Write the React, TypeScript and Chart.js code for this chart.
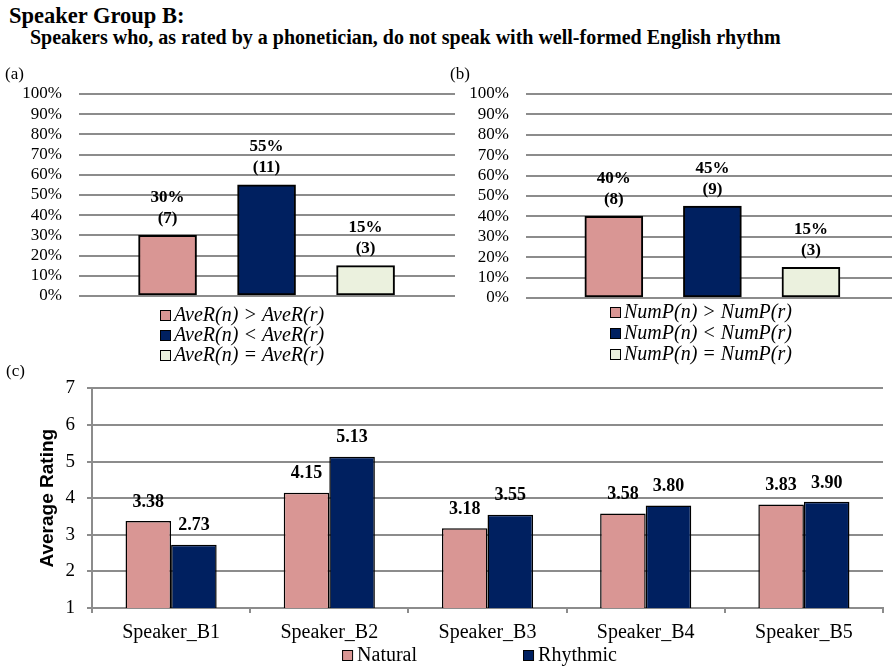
import React, { useEffect, useRef } from 'react';
import { Chart, registerables } from 'chart.js';

Chart.register(...registerables);

const SERIF = '"Liberation Serif", "Times New Roman", serif';
const SANS = '"Liberation Sans", Arial, sans-serif';

// ---- Data ----
const panelAConditions = ['AveR(n) > AveR(r)', 'AveR(n) < AveR(r)', 'AveR(n) = AveR(r)'];
const panelAPercent = [30, 55, 15];
const panelACount = [7, 11, 3];

const panelBConditions = ['NumP(n) > NumP(r)', 'NumP(n) < NumP(r)', 'NumP(n) = NumP(r)'];
const panelBPercent = [40, 45, 15];
const panelBCount = [8, 9, 3];

const speakers = ['Speaker_B1', 'Speaker_B2', 'Speaker_B3', 'Speaker_B4', 'Speaker_B5'];
const naturalRatings = [3.38, 4.15, 3.18, 3.58, 3.83];
const rhythmicRatings = [2.73, 5.13, 3.55, 3.8, 3.9];
const seriesNames = ['Natural', 'Rhythmic'];

const conditionColors = ['#D99694', '#002060', '#EBF1DE'];
const seriesColors = ['#D99694', '#002060'];
const GRID = '#8c8c8c';

type PercentOpts = {
  conditions: string[];
  percents: number[];
  counts: number[];
  panel: string;
  panelX: number;
  panelY: number;
  xMin: number;
  xMax: number;
  padding: { left: number; right: number; top: number; bottom: number };
  yWidth: number;
  legendX: number;
  legendTop: number;
  legendStep: number;
};

function makePercentConfig(o: PercentOpts): any {
  return {
    type: 'bar',
    data: {
      datasets: [
        {
          data: o.percents.map((v, i) => ({ x: i, y: v })),
          backgroundColor: conditionColors,
          borderColor: '#000',
          borderWidth: 2,
          borderSkipped: false,
          barThickness: 58,
        },
      ],
    },
    options: {
      animation: false,
      responsive: false,
      events: [],
      layout: { padding: o.padding },
      plugins: { legend: { display: false }, tooltip: { enabled: false } },
      scales: {
        x: { type: 'linear', min: o.xMin, max: o.xMax, display: false },
        y: {
          min: 0,
          max: 100,
          ticks: {
            stepSize: 10,
            autoSkip: false,
            callback: (v: number) => v + '%',
            font: { family: SERIF, size: 17 },
            color: '#000',
            padding: 17,
          },
          grid: { color: GRID, lineWidth: 2, drawTicks: false },
          border: { display: false },
          afterFit: (s: any) => {
            s.width = o.yWidth;
          },
        },
      },
    },
    plugins: [
      {
        id: 'percentLabels',
        afterDatasetsDraw(chart: any) {
          const ctx = chart.ctx;
          const meta = chart.getDatasetMeta(0);
          ctx.save();
          ctx.fillStyle = '#000';
          ctx.textAlign = 'center';
          ctx.textBaseline = 'middle';
          ctx.font = `bold 17px ${SERIF}`;
          meta.data.forEach((el: any, i: number) => {
            ctx.fillText(`${o.percents[i]}%`, el.x, el.y - 38);
            ctx.fillText(`(${o.counts[i]})`, el.x, el.y - 17);
          });
          ctx.restore();
        },
        afterDraw(chart: any) {
          const ctx = chart.ctx;
          const area = chart.chartArea;
          ctx.save();
          ctx.fillStyle = '#000';
          ctx.font = `17px ${SERIF}`;
          ctx.textAlign = 'left';
          ctx.textBaseline = 'middle';
          ctx.fillText(o.panel, o.panelX, o.panelY);
          ctx.font = `italic 20px ${SERIF}`;
          o.conditions.forEach((label, i) => {
            const cy = area.bottom + o.legendTop + i * o.legendStep;
            ctx.fillStyle = conditionColors[i];
            ctx.fillRect(o.legendX, cy - 5, 10, 10);
            ctx.strokeStyle = '#000';
            ctx.lineWidth = 1;
            ctx.strokeRect(o.legendX + 0.5, cy - 4.5, 10, 10);
            ctx.fillStyle = '#000';
            ctx.fillText(label, o.legendX + 14, cy + 1);
          });
          ctx.restore();
        },
      },
    ],
  };
}

function makeRatingConfig(): any {
  return {
    type: 'bar',
    data: {
      labels: speakers,
      datasets: [
        {
          label: seriesNames[0],
          data: naturalRatings,
          backgroundColor: seriesColors[0],
          borderColor: '#000',
          borderWidth: 1.5,
          borderSkipped: false,
        },
        {
          label: seriesNames[1],
          data: rhythmicRatings,
          backgroundColor: seriesColors[1],
          borderColor: '#000',
          borderWidth: 1.5,
          borderSkipped: false,
        },
      ],
    },
    options: {
      animation: false,
      responsive: false,
      events: [],
      layout: { padding: { left: 0, right: 10, top: 19, bottom: 17 } },
      datasets: { bar: { categoryPercentage: 0.576, barPercentage: 1 } },
      plugins: { legend: { display: false }, tooltip: { enabled: false } },
      scales: {
        x: {
          ticks: { font: { family: SERIF, size: 20 }, color: '#000', padding: 8, autoSkip: false, maxRotation: 0 },
          grid: { drawOnChartArea: false, color: GRID, lineWidth: 2, tickLength: 5, offset: true },
          border: { color: GRID, width: 2 },
          afterFit: (s: any) => {
            s.height = 42;
          },
        },
        y: {
          min: 1,
          max: 7,
          ticks: { stepSize: 1, autoSkip: false, font: { family: SERIF, size: 19 }, color: '#000', padding: 12 },
          grid: { color: GRID, lineWidth: 2, tickLength: 5 },
          border: { color: GRID, width: 2 },
          afterFit: (s: any) => {
            s.width = 92;
          },
        },
      },
    },
    plugins: [
      {
        id: 'ratingExtras',
        afterDatasetsDraw(chart: any) {
          const ctx = chart.ctx;
          ctx.save();
          ctx.fillStyle = '#000';
          ctx.textAlign = 'center';
          ctx.textBaseline = 'middle';
          ctx.font = `bold 18px ${SERIF}`;
          chart.data.datasets.forEach((ds: any, di: number) => {
            const meta = chart.getDatasetMeta(di);
            meta.data.forEach((el: any, i: number) => {
              ctx.fillText(Number(ds.data[i]).toFixed(2), el.x, el.y - 19);
            });
          });
          ctx.restore();
        },
        afterDraw(chart: any) {
          const ctx = chart.ctx;
          const area = chart.chartArea;
          ctx.save();
          ctx.fillStyle = '#000';
          // panel label
          ctx.font = `17px ${SERIF}`;
          ctx.textAlign = 'left';
          ctx.textBaseline = 'middle';
          ctx.fillText('(c)', 6, 7);
          // y title
          ctx.save();
          ctx.translate(48, (area.top + area.bottom) / 2);
          ctx.rotate(-Math.PI / 2);
          ctx.font = `bold 19px ${SANS}`;
          ctx.textAlign = 'center';
          ctx.fillText('Average Rating', 0, 0);
          ctx.restore();
          // legend
          ctx.font = `20px ${SERIF}`;
          const gap = 106;
          const widths = seriesNames.map((n) => 15 + ctx.measureText(n).width);
          const total = widths.reduce((a, b) => a + b, 0) + gap * (seriesNames.length - 1);
          let x = (area.left + area.right) / 2 - 8 - total / 2;
          const cy = area.bottom + 47;
          seriesNames.forEach((n, i) => {
            ctx.fillStyle = seriesColors[i];
            ctx.fillRect(x, cy - 5, 10, 10);
            ctx.strokeStyle = '#000';
            ctx.lineWidth = 1;
            ctx.strokeRect(x + 0.5, cy - 4.5, 10, 10);
            ctx.fillStyle = '#000';
            ctx.textAlign = 'left';
            ctx.fillText(n, x + 15, cy + 1);
            x += widths[i] + gap;
          });
          ctx.restore();
        },
      },
    ],
  };
}

function ChartCanvas(props: { left: number; top: number; width: number; height: number; make: () => any }) {
  const ref = useRef<HTMLCanvasElement | null>(null);
  useEffect(() => {
    if (!ref.current) return;
    const chart = new Chart(ref.current, props.make());
    return () => chart.destroy();
  }, []);
  return (
    <canvas
      ref={ref}
      width={props.width}
      height={props.height}
      style={{ position: 'absolute', left: props.left, top: props.top, width: props.width, height: props.height }}
    />
  );
}

export default function App() {
  return (
    <div style={{ position: 'absolute', left: 0, top: 0, width: 893, height: 667, background: '#fff', overflow: 'hidden' }}>
      <div style={{ position: 'absolute', left: 9, top: 3, fontFamily: SERIF, fontWeight: 'bold', fontSize: 22.5, lineHeight: '26px', whiteSpace: 'nowrap' }}>
        Speaker Group B:
      </div>
      <div style={{ position: 'absolute', left: 30, top: 25, fontFamily: SERIF, fontWeight: 'bold', fontSize: 20, lineHeight: '24px', whiteSpace: 'nowrap' }}>
        Speakers who, as rated by a phonetician, do not speak with well-formed English rhythm
      </div>
      <ChartCanvas
        left={0}
        top={60}
        width={460}
        height={310}
        make={() =>
          makePercentConfig({
            conditions: panelAConditions,
            percents: panelAPercent,
            counts: panelACount,
            panel: '(a)',
            panelX: 5,
            panelY: 15,
            xMin: -0.623,
            xMax: 2.632,
            padding: { left: 0, right: 5, top: 34, bottom: 74 },
            yWidth: 79,
            legendX: 160,
            legendTop: 19,
            legendStep: 20,
          })
        }
      />
      <ChartCanvas
        left={440}
        top={60}
        width={453}
        height={310}
        make={() =>
          makePercentConfig({
            conditions: panelBConditions,
            percents: panelBPercent,
            counts: panelBCount,
            panel: '(b)',
            panelX: 10,
            panelY: 15,
            xMin: -0.626,
            xMax: 2.557,
            padding: { left: 0, right: 1, top: 34, bottom: 72 },
            yWidth: 86,
            legendX: 170,
            legendTop: 14,
            legendStep: 21,
          })
        }
      />
      <ChartCanvas left={0} top={365} width={893} height={302} make={makeRatingConfig} />
    </div>
  );
}
